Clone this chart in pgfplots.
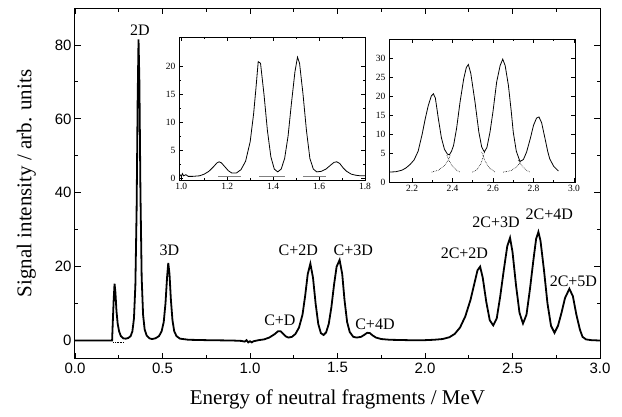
\documentclass[border=0pt]{standalone}
\usepackage{fontspec}
\setmainfont{Liberation Serif}
\newfontfamily\sansf{Liberation Sans}
\usepackage{pgfplots}
\pgfplotsset{compat=1.18}
\begin{document}
\begin{tikzpicture}
\path[use as bounding box] (-75pt,-58pt) rectangle (547pt,359pt);
% main spectrum
\begin{axis}[
    at={(0pt,0pt)}, anchor=south west,
    scale only axis, width=525pt, height=351pt,
    xmin=0, xmax=3, ymin=-5, ymax=90,
    xtick={0,0.5,1,1.5,2,2.5,3}, ytick={0,20,40,60,80},
    minor x tick num=1, minor y tick num=1,
    tick align=inside, major tick length=6pt, minor tick length=3.5pt,
    axis line style={line width=1pt}, every tick/.style={line width=0.9pt, black},
    ticklabel style={font=\sansf\fontsize{15}{15}\selectfont},
    /pgf/number format/assume math mode=true,
    x tick label style={/pgf/number format/.cd, fixed, fixed zerofill, precision=1},
    xlabel={Energy of neutral fragments / MeV},
    ylabel={Signal intensity / arb. units},
    label style={font=\fontsize{21}{21}\selectfont},
    xlabel style={yshift=-10pt},
    ylabel style={yshift=12pt},
    clip=false
]
\addplot[black, line width=1.8pt] coordinates {
(0,0) (0.212,0) (0.216,5) (0.221,11) (0.226,15.4) (0.231,13) (0.237,8) (0.244,4.5)
(0.252,2.5) (0.262,1.2) (0.275,0.6) (0.29,0.5) (0.305,0.7) (0.318,1.2) (0.328,2.5)
(0.337,6) (0.345,15) (0.352,35) (0.358,65) (0.363,81.5) (0.368,70) (0.374,40) (0.381,17)
(0.389,7) (0.398,3) (0.41,1.3) (0.425,0.6) (0.44,0.4) (0.46,0.6) (0.48,1.2) (0.495,2.5)
(0.507,5) (0.517,10) (0.526,17) (0.533,21) (0.54,18) (0.548,11) (0.557,5.5) (0.567,2.5)
(0.58,1.2) (0.6,0.5) (0.65,0.2) (0.75,0.1) (0.9,0) (0.95,-0.1) (0.97,-0.3) (0.98,0.1)
(0.99,-0.5) (1.0,-0.2) (1.01,-0.5) (1.02,-0.2) (1.05,0.1) (1.08,0.3) (1.11,0.8) (1.14,1.7)
(1.16,2.5) (1.175,2.5) (1.19,1.8) (1.205,1.1) (1.22,0.8) (1.24,1.0) (1.26,1.8) (1.28,3.5)
(1.30,7) (1.315,12) (1.33,18) (1.345,20.8) (1.36,17) (1.375,10) (1.39,4.5) (1.405,2)
(1.42,1.5) (1.435,2.2) (1.45,4.5) (1.465,9) (1.48,15) (1.495,20) (1.512,21.8) (1.527,18)
(1.54,11) (1.555,5) (1.57,2.3) (1.59,1.0) (1.61,0.8) (1.635,1.0) (1.655,1.6) (1.67,2.1)
(1.685,2.0) (1.70,1.4) (1.72,0.8) (1.75,0.4) (1.8,0.2) (1.9,0.1) (2.0,0.1) (2.05,0.2)
(2.1,0.4) (2.14,0.9) (2.17,1.8) (2.20,3.5) (2.23,6.5) (2.26,11) (2.285,16) (2.30,19)
(2.315,20) (2.33,17) (2.35,10.5) (2.37,5.5) (2.39,4.1) (2.41,6) (2.43,12) (2.45,19)
(2.47,25.5) (2.486,27.8) (2.50,24) (2.52,15) (2.54,7.5) (2.56,4.6) (2.58,7) (2.60,14)
(2.62,22) (2.635,27.5) (2.648,29.4) (2.66,27) (2.68,19) (2.70,10) (2.72,4) (2.74,2.1)
(2.76,4) (2.78,7.5) (2.80,11.5) (2.825,14) (2.845,12) (2.865,7) (2.885,3) (2.90,1)
(2.92,0.3) (2.95,0.1) (3.0,0)
};
\addplot[black, densely dotted, line width=0.6pt] coordinates {(0.22,-0.4) (0.28,-0.4)};
\begin{scope}[every node/.style={font=\fontsize{16}{16}\selectfont}]
\node at (axis cs:0.371,84.1) {2D};
\node at (axis cs:0.539,24.5) {3D};
\node at (axis cs:1.171,5.5) {C+D};
\node at (axis cs:1.276,24.4) {C+2D};
\node at (axis cs:1.59,24.4) {C+3D};
\node at (axis cs:1.714,4.3) {C+4D};
\node at (axis cs:2.225,23.6) {2C+2D};
\node at (axis cs:2.406,32.1) {2C+3D};
\node at (axis cs:2.71,34.3) {2C+4D};
\node at (axis cs:2.848,16.1) {2C+5D};
\end{scope}
\end{axis}
% inset 1
\begin{axis}[
    at={(104pt,179pt)}, anchor=south west,
    scale only axis, width=186pt, height=143pt,
    xmin=0.99, xmax=1.8, ymin=-0.35, ymax=25.2,
    xtick={1.0,1.2,1.4,1.6,1.8}, ytick={0,5,10,15,20},
    minor x tick num=1, minor y tick num=1,
    tick align=inside, major tick length=4pt, minor tick length=2pt,
    axis line style={line width=0.7pt}, every tick/.style={line width=0.6pt, black},
    ticklabel style={font=\fontsize{9.5}{9.5}\selectfont},
    /pgf/number format/assume math mode=true,
    x tick label style={/pgf/number format/.cd, fixed, fixed zerofill, precision=1},
]
\addplot[black, line width=0.8pt] coordinates {
(0.995,0.6) (1.0,0.3) (1.005,0.8) (1.01,0.4) (1.02,0.6) (1.03,0.3) (1.05,0.3) (1.08,0.4)
(1.10,0.7) (1.12,1.2) (1.14,2.0) (1.155,2.7) (1.165,2.9) (1.175,2.7) (1.19,2.0) (1.205,1.3)
(1.22,0.9) (1.24,0.9) (1.26,1.5) (1.28,3) (1.30,6.5) (1.315,11.5) (1.325,16) (1.335,20.8)
(1.345,20.5) (1.36,15) (1.375,8.5) (1.39,3.8) (1.405,1.6) (1.42,1.1) (1.435,1.6) (1.45,3.5)
(1.465,7.5) (1.48,13.5) (1.495,19) (1.506,21.6) (1.515,20.5) (1.53,15) (1.545,8.5) (1.56,3.5)
(1.575,1.6) (1.59,1.1) (1.61,1.2) (1.63,1.6) (1.65,2.3) (1.665,2.8) (1.677,2.9) (1.69,2.6)
(1.705,1.8) (1.72,1.2) (1.74,0.7) (1.76,0.5) (1.78,0.4) (1.8,0.4)
};
\addplot[gray, line width=0.6pt] coordinates {(1.16,0.3) (1.26,0.3)};
\addplot[gray, line width=0.6pt] coordinates {(1.34,0.3) (1.45,0.3)};
\addplot[gray, line width=0.6pt] coordinates {(1.53,0.3) (1.63,0.3)};
\end{axis}
% inset 2
\begin{axis}[
    at={(314pt,177pt)}, anchor=south west,
    scale only axis, width=186pt, height=143pt,
    xmin=2.086, xmax=3.005, ymin=-2.6, ymax=35,
    xtick={2.2,2.4,2.6,2.8,3.0}, ytick={-2.6,5,10,15,20,25,30},
    yticklabels={0,5,10,15,20,25,30},
    minor x tick num=1,
    tick align=inside, major tick length=4pt, minor tick length=2pt,
    axis line style={line width=0.7pt}, every tick/.style={line width=0.6pt, black},
    ticklabel style={font=\fontsize{9.5}{9.5}\selectfont},
    /pgf/number format/assume math mode=true,
    x tick label style={/pgf/number format/.cd, fixed, fixed zerofill, precision=1},
]
\addplot[black, line width=0.8pt] coordinates {
(2.086,0) (2.12,0.1) (2.15,0.5) (2.17,1.1) (2.19,2.0) (2.21,3.2) (2.23,5.5) (2.25,10)
(2.265,14) (2.28,17.5) (2.295,20) (2.305,20.6) (2.315,19.5) (2.33,14) (2.345,9) (2.36,6)
(2.375,4.7) (2.385,4.6) (2.395,5.5) (2.405,7) (2.42,11.5) (2.437,18.4) (2.455,24.5)
(2.468,27.5) (2.478,28.3) (2.49,26) (2.511,18.4) (2.53,10.5) (2.544,6.6) (2.557,5.3)
(2.57,6.5) (2.585,10.5) (2.60,16) (2.618,23.7) (2.635,28) (2.648,29.7) (2.66,28)
(2.676,22.8) (2.69,16) (2.70,10.5) (2.715,5.5) (2.733,2.8) (2.75,3.3) (2.766,5.3)
(2.785,9) (2.80,12.3) (2.815,14.2) (2.827,14.5) (2.84,13) (2.857,8.8) (2.87,5.5)
(2.88,3.5) (2.90,1.5) (2.923,0.3)
};
\addplot[black, densely dotted, line width=0.6pt] coordinates {(2.297,0) (2.33,0.5) (2.36,1.7) (2.38,3.3) (2.39,4.6)};
\addplot[black, densely dotted, line width=0.6pt] coordinates {(2.372,4.4) (2.385,2.8) (2.40,1.5) (2.42,0.5) (2.437,0)};
\addplot[black, densely dotted, line width=0.6pt] coordinates {(2.498,0) (2.52,0.6) (2.54,2.2) (2.559,5.3)};
\addplot[black, densely dotted, line width=0.6pt] coordinates {(2.544,5.3) (2.56,3) (2.58,1.2) (2.61,0)};
\addplot[black, densely dotted, line width=0.6pt] coordinates {(2.65,0) (2.69,0.4) (2.72,1.5) (2.741,3.1)};
\addplot[black, densely dotted, line width=0.6pt] coordinates {(2.724,3.1) (2.745,1.5) (2.765,0.5) (2.782,0)};
\end{axis}
\end{tikzpicture}
\end{document}
